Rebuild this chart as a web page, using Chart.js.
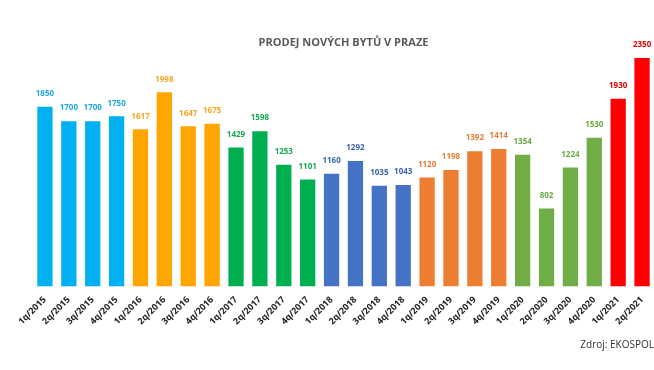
<!DOCTYPE html>
<html>
<head>
<meta charset="utf-8">
<script src="https://cdn.jsdelivr.net/npm/chart.js@4"></script>
<style>
  html, body { margin: 0; padding: 0; background: #fff; }
  #wrap { width: 654px; height: 370px; }
</style>
</head>
<body>
<div id="wrap"><canvas id="chart"></canvas></div>
<script>
// quarters and sales of new flats in Prague
const quarters = [
  "1q/2015", "2q/2015", "3q/2015", "4q/2015",
  "1q/2016", "2q/2016", "3q/2016", "4q/2016",
  "1q/2017", "2q/2017", "3q/2017", "4q/2017",
  "1q/2018", "2q/2018", "3q/2018", "4q/2018",
  "1q/2019", "2q/2019", "3q/2019", "4q/2019",
  "1q/2020", "2q/2020", "3q/2020", "4q/2020",
  "1q/2021", "2q/2021"
];
const sales = [
  1850, 1700, 1700, 1750,
  1617, 1998, 1647, 1675,
  1429, 1598, 1253, 1101,
  1160, 1292, 1035, 1043,
  1120, 1198, 1392, 1414,
  1354, 802, 1224, 1530,
  1930, 2350
];

// one colour per year
const yearColors = {
  "2015": "#00b0f0",
  "2016": "#ffa500",
  "2017": "#00b050",
  "2018": "#4472c4",
  "2019": "#ed7d31",
  "2020": "#70ad47",
  "2021": "#ff0000"
};
const labelColors = {
  "2015": "#1fa8e0",
  "2016": "#f5a623",
  "2017": "#17a84f",
  "2018": "#3a64b0",
  "2019": "#e57b35",
  "2020": "#6aab40",
  "2021": "#e00000"
};

const barColors = quarters.map(q => yearColors[q.split("/")[1]]);
const valueColors = quarters.map(q => labelColors[q.split("/")[1]]);

// value above each bar
const valueLabels = {
  id: "valueLabels",
  afterDatasetsDraw(chart) {
    const ctx = chart.ctx;
    const meta = chart.getDatasetMeta(0);
    ctx.save();
    ctx.font = "bold 8px 'Open Sans', sans-serif";
    ctx.textAlign = "center";
    ctx.textBaseline = "bottom";
    meta.data.forEach((bar, i) => {
      ctx.fillStyle = valueColors[i];
      ctx.fillText(sales[i], bar.x, bar.y - 9);
    });
    ctx.restore();
  }
};

new Chart(document.getElementById("chart"), {
  type: "bar",
  data: {
    labels: quarters,
    datasets: [{
      data: sales,
      backgroundColor: barColors,
      barPercentage: 0.64,
      categoryPercentage: 1
    }]
  },
  options: {
    responsive: true,
    maintainAspectRatio: false,
    animation: false,
    layout: { padding: { left: 33, right: 0, bottom: 19 } },
    plugins: {
      legend: { display: false },
      tooltip: { enabled: false },
      title: {
        display: true,
        text: "PRODEJ NOVÝCH BYTŮ V PRAZE",
        color: "#595959",
        font: { family: "'Open Sans', sans-serif", size: 11, weight: "bold" },
        padding: { top: 36, bottom: 2 }
      },
      subtitle: {
        display: true,
        position: "bottom",
        align: "end",
        text: "Zdroj: EKOSPOL",
        color: "#333",
        font: { family: "'Open Sans', sans-serif", size: 10 },
        padding: { top: 12, bottom: 0 }
      }
    },
    scales: {
      x: {
        grid: { display: false },
        border: { display: false },
        ticks: {
          maxRotation: 45,
          minRotation: 45,
          autoSkip: false,
          color: "#222",
          font: { family: "'Open Sans', sans-serif", size: 9, weight: "bold" },
          padding: 0
        }
      },
      y: {
        display: false,
        min: 0,
        max: 2420
      }
    }
  },
  plugins: [valueLabels]
});
</script>
</body>
</html>
